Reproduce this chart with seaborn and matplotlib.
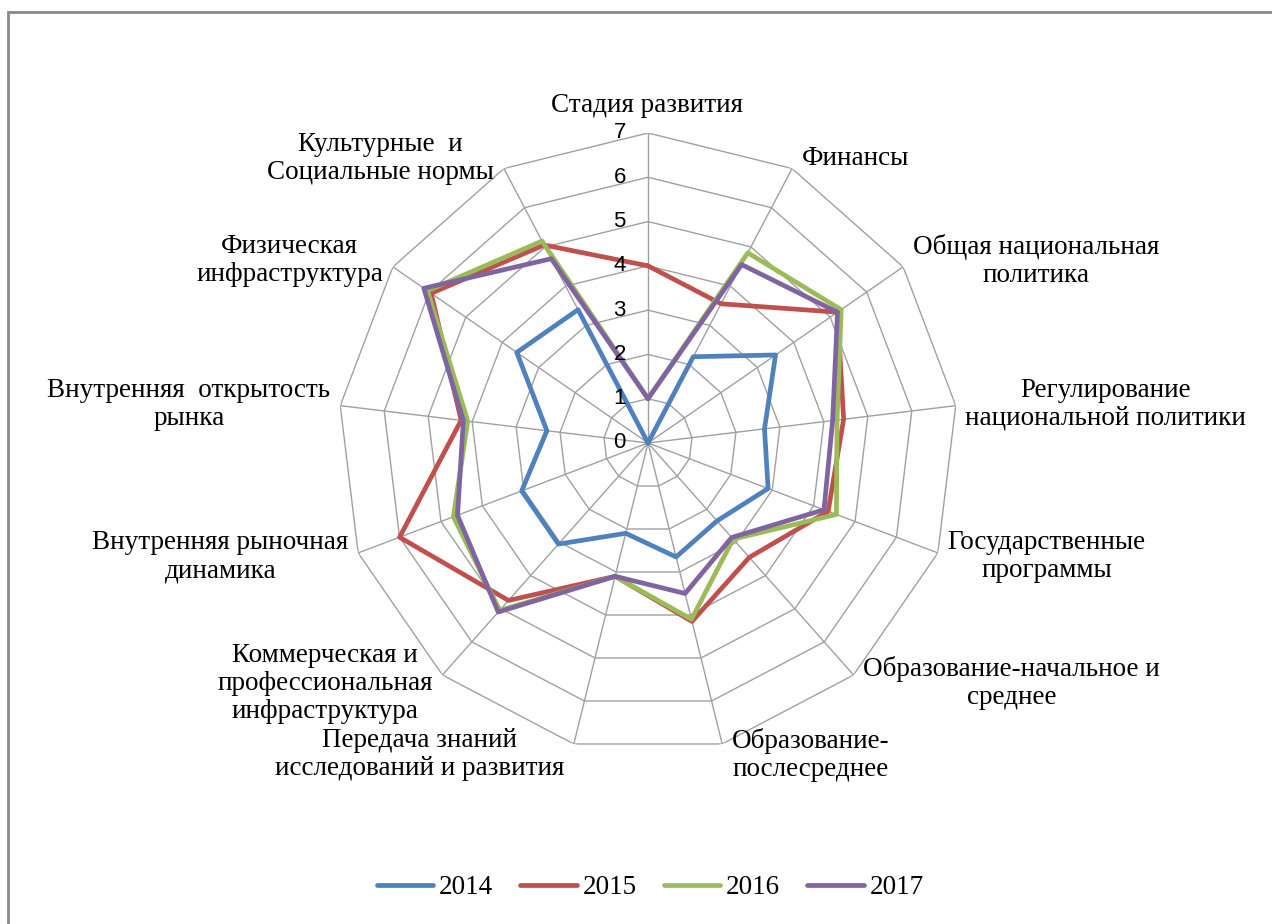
import numpy as np
import pandas as pd
import matplotlib.pyplot as plt
import seaborn as sns
from matplotlib.lines import Line2D
from matplotlib.patches import Rectangle

sns.set_theme(style="white")
plt.rcParams['font.family'] = ['Liberation Serif', 'DejaVu Serif']
plt.rcParams['text.color'] = 'black'

categories = [
    "Стадия развития",
    "Финансы",
    "Общая национальная\nполитика",
    "Регулирование\nнациональной политики",
    "Государственные\nпрограммы",
    "Образование-начальное и\nсреднее",
    "Образование-\nпослесреднее",
    "Передача знаний\nисследований и развития",
    "Коммерческая и\nпрофессиональная\nинфраструктура",
    "Внутренняя рыночная\nдинамика",
    "Внутренняя  открытость\nрынка",
    "Физическая\nинфраструктура",
    "Культурные  и\nСоциальные нормы",
]
years = ["2014", "2015", "2016", "2017"]
v2014 = [0.0, 2.2, 3.5, 2.65, 2.9, 2.35, 2.65, 2.1, 3.05, 3.05, 2.3, 3.6, 3.4]
v2015 = [4.0, 3.55, 5.2, 4.45, 4.35, 3.45, 4.15, 3.1, 4.75, 6.0, 4.25, 5.95, 5.05]
v2016 = [1.0, 4.85, 5.3, 4.3, 4.55, 2.9, 4.1, 3.1, 5.05, 4.7, 4.1, 6.05, 5.15]
v2017 = [1.0, 4.55, 5.2, 4.2, 4.25, 2.85, 3.5, 3.1, 5.1, 4.6, 4.2, 6.15, 4.7]
levels = [0, 1, 2, 3, 4, 5, 6, 7]

colors = {"2014": "#4F81BD", "2015": "#C0504D", "2016": "#9BBB59", "2017": "#8064A2"}

n = len(categories)
angles = np.linspace(0, 2 * np.pi, n, endpoint=False)
angles_closed = np.append(angles, 2 * np.pi)

# длинная таблица, каждый многоугольник замкнут
rows = []
for y, vals in zip(years, [v2014, v2015, v2016, v2017]):
    closed = list(vals) + [vals[0]]
    for a, v in zip(angles_closed, closed):
        rows.append({"theta": a, "value": v, "year": y})
df = pd.DataFrame(rows)

fig = plt.figure(figsize=(12.72, 9.24), dpi=100)
ax = fig.add_axes([338 / 1272, (924 - 443 - 310) / 924, 620 / 1272, 620 / 924], projection="polar")
ax.set_theta_offset(np.pi / 2)
ax.set_theta_direction(-1)
ax.set_ylim(0, 7)
ax.grid(False)
ax.spines["polar"].set_visible(False)
ax.set_xticks([])
ax.set_yticks([])
ax.patch.set_alpha(0)

# сетка-многоугольники и лучи
grid_c = "#A0A0A0"
for lvl in levels[1:]:
    ax.plot(angles_closed, [lvl] * (n + 1), color=grid_c, lw=1.0, zorder=1)
for a in angles:
    ax.plot([a, a], [0, 7], color=grid_c, lw=1.0, zorder=1)

sns.lineplot(data=df, x="theta", y="value", hue="year", palette=colors,
             sort=False, estimator=None, lw=3.4, legend=False, ax=ax, zorder=3)
ax.set_xlabel("")
ax.set_ylabel("")

# подписи шкалы
for lvl in levels:
    ax.annotate(str(lvl), xy=(0, lvl), xytext=(-16, 0), textcoords="offset points",
                ha="right", va="center", fontsize=16, family=["Liberation Sans", "DejaVu Sans"])

# подписи категорий
fs = 19.5
for a, lab in zip(angles, categories):
    s, c = np.sin(a), np.cos(a)
    if abs(s) < 0.1:
        ax.annotate(lab, xy=(a, 7), xytext=(-1, 20), textcoords="offset points",
                    ha="center", va="center", fontsize=fs, multialignment="center")
    else:
        ha = "left" if s > 0 else "right"
        ax.annotate(lab, xy=(a, 7), xytext=(7 * np.sign(s), 8 * c), textcoords="offset points",
                    ha=ha, va="center", fontsize=fs, multialignment="center",
                    linespacing=1.15)

handles = [Line2D([0], [0], color=colors[y], lw=3.4, solid_capstyle="round") for y in years]
fig.legend(handles, years, loc="center", bbox_to_anchor=(650 / 1272, 1 - 888 / 924), ncol=4,
           frameon=False, fontsize=fs, handlelength=2.1, handletextpad=0.2, columnspacing=1.0)

fig.patches.append(Rectangle((8 / 1272, -0.1), 1.2, 1.1 - 12 / 924, transform=fig.transFigure,
                             fill=False, edgecolor="#888888", lw=2))

fig.savefig("out.png", dpi=100)
